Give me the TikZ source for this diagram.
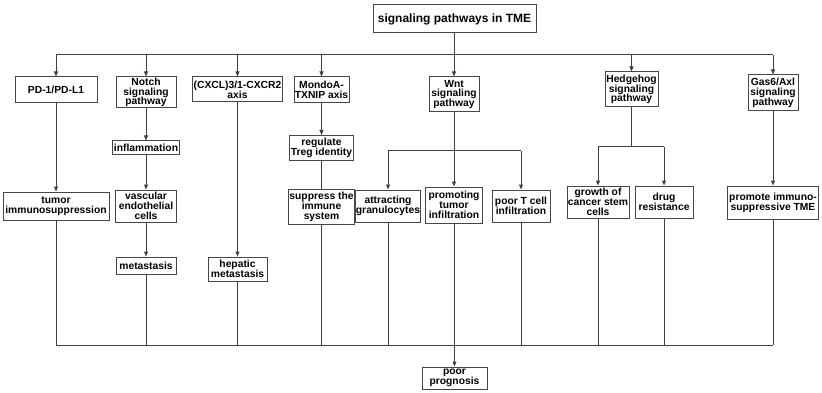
\documentclass[tikz,border=0pt]{standalone}
\usepackage{fontspec}
\setmainfont{Liberation Sans}
\usetikzlibrary{arrows.meta}
\begin{document}
\begin{tikzpicture}[x=1pt,y=-1pt,
  box/.style={draw=black!72,line width=1pt,fill=white,align=center,inner sep=0.8pt,
    font=\bfseries\fontsize{10.3}{9.8}\selectfont,text=black},
  conn/.style={draw=black!75,line width=1pt},
  arr/.style={conn,-{Triangle[length=5pt,width=4pt]}}]
\useasboundingbox (0,0) rectangle (822,393);
% nodes
\node[box,minimum width=163,minimum height=28,font=\bfseries\fontsize{12}{12}\selectfont] (top) at (454.5,19) {signaling pathways in TME};
\node[box,minimum width=82,minimum height=26] (pd1) at (56,90) {PD-1/PD-L1};
\node[box,minimum width=60,minimum height=31] (notch) at (146,92.5) {Notch\\signaling\\pathway};
\node[box,minimum width=89,minimum height=25] (cxcl) at (237.5,89.5) {(CXCL)3/1-CXCR2\\axis};
\node[box,minimum width=55,minimum height=26] (mondo) at (321.5,90) {MondoA-\\TXNIP axis};
\node[box,minimum width=50,minimum height=35] (wnt) at (454,94.5) {Wnt\\signaling\\pathway};
\node[box,minimum width=53,minimum height=35] (hedge) at (631.5,89.5) {Hedgehog\\signaling\\pathway};
\node[box,minimum width=50,minimum height=36] (gas) at (773,93) {Gas6/Axl\\signaling\\pathway};
\node[box,minimum width=67,minimum height=14] (infl) at (146,148) {inflammation};
\node[box,minimum width=64,minimum height=25] (treg) at (321.5,148) {regulate\\Treg identity};
\node[box,minimum width=106,minimum height=28] (tumimm) at (56,206) {tumor\\immunosuppression};
\node[box,minimum width=61,minimum height=32] (vasc) at (146,206) {vascular\\endothelial\\cells};
\node[box,minimum width=66,minimum height=35] (supp) at (321.5,207) {suppress the\\immune\\system};
\node[box,minimum width=64,minimum height=32] (attr) at (388,206) {attracting\\granulocytes};
\node[box,minimum width=57,minimum height=36] (promo) at (454,205) {promoting\\tumor\\infiltration};
\node[box,minimum width=58,minimum height=32] (poort) at (521,206) {poor T cell\\infiltration};
\node[box,minimum width=62,minimum height=32] (growth) at (598,202) {growth of\\cancer stem\\cells};
\node[box,minimum width=58,minimum height=32] (drug) at (664,202) {drug\\resistance};
\node[box,minimum width=91,minimum height=33] (prom) at (773,202.5) {promote immuno-\\suppressive TME};
\node[box,minimum width=60,minimum height=17] (meta) at (146,265.5) {metastasis};
\node[box,minimum width=59,minimum height=24] (hep) at (237.5,269) {hepatic\\metastasis};
\node[box,minimum width=65,minimum height=22] (poor) at (454.5,378) {poor\\prognosis};
% bus coordinates
\coordinate (topbus) at (454.5,55);
\coordinate (wbus) at (454,151);
\coordinate (hbus) at (631.5,147);
\coordinate (botbus) at (454.5,345);
% top bus
\draw[conn] (top.south) -- (top.south |- topbus);
\draw[conn] (pd1.north |- topbus) -- (gas.north |- topbus);
\foreach \n in {pd1,notch,cxcl,mondo,wnt,hedge,gas}
  \draw[arr] (\n.north |- topbus) -- (\n.north);
% chains
\draw[arr] (pd1) -- (tumimm);
\draw[arr] (notch) -- (infl);
\draw[arr] (infl) -- (vasc);
\draw[arr] (vasc) -- (meta);
\draw[arr] (cxcl) -- (hep.north);
\draw[arr] (mondo) -- (treg);
\draw[conn] (treg) -- (supp);
\draw[arr] (gas) -- (prom);
% Wnt split
\draw[conn] (wnt.south) -- (wbus);
\draw[conn] (attr.north |- wbus) -- (poort.north |- wbus);
\foreach \n in {attr,promo,poort}
  \draw[arr] (\n.north |- wbus) -- (\n.north);
% Hedgehog split
\draw[conn] (hedge.south) -- (hbus);
\draw[conn] (growth.north |- hbus) -- (drug.north |- hbus);
\foreach \n in {growth,drug}
  \draw[arr] (\n.north |- hbus) -- (\n.north);
% bottom bus
\foreach \n in {tumimm,meta,hep,supp,attr,promo,poort,growth,drug,prom}
  \draw[conn] (\n.south) -- (\n.south |- botbus);
\draw[conn] (tumimm.south |- botbus) -- (prom.south |- botbus);
\draw[arr] (botbus) -- (poor.north);
\end{tikzpicture}
\end{document}
